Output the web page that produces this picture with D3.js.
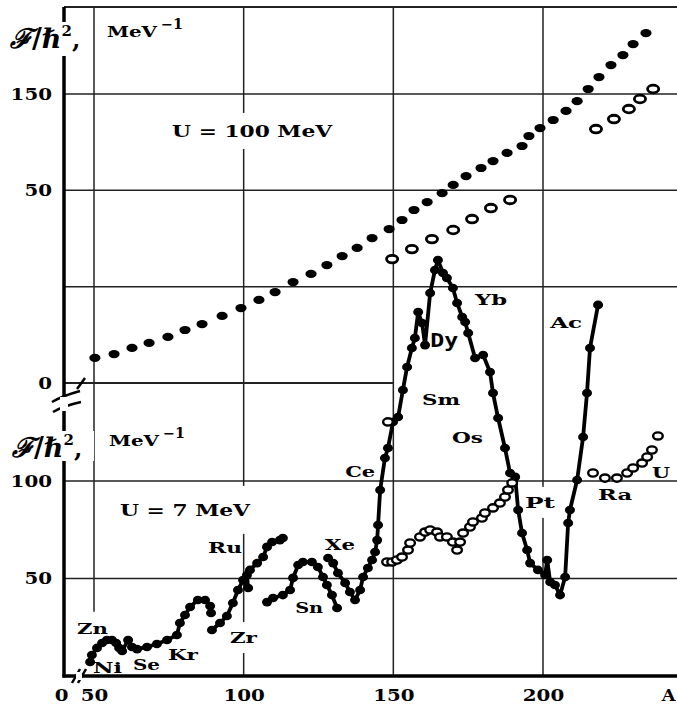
<!DOCTYPE html>
<html><head><meta charset="utf-8">
<script src="https://cdn.jsdelivr.net/npm/d3@7"></script>
<style>
body{margin:0;background:#fff}
svg{display:block}
text{font-family:"DejaVu Serif",serif;font-weight:bold;fill:#000}
</style></head><body>
<svg id="chart" width="677" height="713"></svg>
<script>
// ---- data: [A, F/h^2] ----
const topFilled = [[50.3,13.0],[56.7,15.0],[62.7,18.2],[68.4,20.8],[74.7,23.9],[80.4,27.5],[86.1,30.6],[92.8,34.8],[99.1,38.9],[105.1,43.1],[110.5,47.2],[116.5,52.4],[122.5,56.6],[127.8,61.2],[132.9,65.9],[137.9,70.1],[142.9,75.2],[148.6,79.9],[152.9,84.6],[156.9,89.8],[161.3,93.9],[166.3,98.6],[170.0,102.8],[174.3,107.4],[179.3,111.6],[183.3,115.2],[188.0,119.4],[193.0,123.0],[195.3,128.2],[199.0,132.3],[203.4,136.5],[207.7,141.2],[211.4,146.3],[215.1,152.6],[218.7,158.8],[222.7,165.0],[226.7,170.2],[230.1,175.9],[234.4,181.6]];
const topOpen = [[149.6,64.3],[156.2,69.5],[162.9,74.7],[170.0,79.4],[176.3,85.1],[182.6,90.8],[189.0,95.0],[217.7,131.8],[223.7,137.0],[228.7,142.2],[232.4,147.4],[236.8,152.6]];

const lowNiKr = [[48.7,7.2],[49.3,10.8],[51.0,14.4],[52.7,16.9],[54.3,18.5],[56.0,18.5],[57.4,16.9],[58.4,14.4],[59.4,12.8],[61.4,18.5],[62.7,14.9],[64.4,13.8],[67.7,14.9],[71.0,16.4],[74.4,18.5],[77.7,21.0],[78.7,27.2],[80.4,31.3],[82.1,35.4],[84.7,39.0],[87.1,39.0],[88.8,35.9],[89.1,32.3]];
const lowZrRu = [[89.4,23.6],[92.1,27.2],[94.4,30.8],[96.4,37.4],[98.1,44.1],[99.8,49.2],[101.5,45.1],[101.1,51.8],[102.1,54.4],[104.5,57.9],[106.5,61.0],[107.8,66.2],[109.5,68.7],[112.1,69.7],[113.1,70.8]];
const lowSn = [[107.8,37.9],[109.8,40.0],[113.1,41.5],[115.5,44.1],[116.5,50.3],[118.2,56.9],[119.8,58.5],[122.8,58.5],[124.8,55.9],[126.5,50.8],[127.8,46.7],[129.5,41.5],[131.2,34.9]];
const lowXeAc = [[128.2,60.5],[129.9,57.9],[131.5,52.8],[133.9,47.7],[135.5,43.1],[137.2,39.0],[138.9,44.1],[139.9,50.8],[141.5,55.4],[142.9,59.5],[143.9,63.6],[144.6,69.7],[144.9,77.4],[145.6,95.4],[147.2,111.8],[148.2,116.9],[149.9,130.3],[151.6,132.8],[153.2,146.7],[154.6,158.5],[156.2,168.2],[157.2,173.3],[158.3,186.7],[159.6,181.0],[160.6,169.7],[162.3,196.4],[163.9,208.2],[164.9,213.3],[166.6,206.7],[167.9,204.1],[169.9,199.0],[171.3,191.3],[173.0,184.1],[174.0,181.5],[175.0,175.9],[177.3,163.1],[180.0,164.6],[182.3,155.9],[183.3,145.1],[185.0,132.3],[187.3,116.9],[189.0,104.1],[190.7,102.1],[191.7,85.1],[193.0,73.3],[194.7,64.6],[195.7,57.9],[198.3,54.4],[200.7,51.8],[201.4,59.5],[202.4,48.2],[204.0,46.7],[205.7,41.5],[207.4,50.8],[208.4,78.5],[209.0,85.1],[211.4,100.5],[213.4,122.6],[214.7,145.1],[215.7,168.2],[218.4,190.3]];
const lowOpen = [[148.2,130.3],[147.9,58.5],[149.6,58.5],[151.2,59.5],[152.9,61.0],[154.9,64.6],[155.6,68.2],[158.9,71.3],[160.6,73.8],[162.3,74.9],[164.6,73.8],[165.6,71.3],[167.9,71.3],[169.9,68.7],[171.3,64.6],[172.3,68.7],[173.3,73.3],[175.6,76.4],[176.6,79.0],[179.6,81.0],[180.6,83.6],[183.3,86.2],[185.6,88.7],[187.3,91.8],[188.3,95.4],[189.7,99.0],[216.7,104.1],[220.7,101.5],[224.7,101.5],[228.1,104.1],[230.1,106.7],[233.1,109.2],[234.8,112.3],[236.4,115.9],[238.4,123.1]];

// tick labels
const xTickPos = [39, 50, 100, 150, 200, 241.8];
const xTickText = ["0", "50", "100", "150", "200", "A"];
const topTickPos = [0, 50, 100, 150];
const topTickText = ["0", "", "50", "150"];
const lowTickPos = [50, 100];
const lowTickText = ["50", "100"];

// element labels, anchored at [A, F] on the lower scale
const elements = [
  {t:"Zn", a:44.3, f:21.5, w:31}, {t:"Ni", a:49.7, f:1.5, w:29}, {t:"Se", a:63.0, f:3.1, w:27},
  {t:"Kr", a:74.7, f:8.2, w:30}, {t:"Zr", a:95.4, f:16.9, w:27, bg:true}, {t:"Ru", a:88.1, f:63.1, w:34},
  {t:"Sn", a:117.2, f:32.3, w:28}, {t:"Xe", a:127.2, f:64.6, w:30}, {t:"Ce", a:133.9, f:102.1, w:30},
  {t:"Sm", a:159.6, f:139.0, w:38}, {t:"Os", a:169.6, f:119.5, w:31}, {t:"Dy", a:162.3, f:169.7, w:28, sans:true},
  {t:"Yb", a:177.3, f:190.3, w:32}, {t:"Ac", a:202.4, f:178.5, w:32}, {t:"Pt", a:194.0, f:86.2, w:30, bg:true},
  {t:"Ra", a:218.4, f:90.3, w:34}, {t:"U", a:236.4, f:101.5, w:18}
];

const W = 677, H = 713;
const axisX = 64, axisY = 676, topY = 7;

const x = d3.scaleLinear().domain([50, 200]).range([94, 543]);
const yTop = d3.scaleLinear().domain([0, 150]).range([383, 94]);
const yLow = d3.scaleLinear().domain([0, 100]).range([axisY, 481]);

const svg = d3.select('#chart');
const grid = svg.append('g').attr('stroke', '#222').attr('stroke-width', 1.5);

// vertical grid lines
[50, 100, 150, 200].forEach(a => {
  grid.append('line').attr('x1', x(a)).attr('x2', x(a))
    .attr('y1', topY).attr('y2', a === 50 ? yLow(33) : axisY);
});
// horizontal grid lines
topTickPos.filter(v => v > 0).forEach(v => {
  grid.append('line').attr('x1', axisX).attr('x2', W).attr('y1', yTop(v)).attr('y2', yTop(v));
});
grid.append('line').attr('x1', axisX).attr('x2', x(150)).attr('y1', yTop(0)).attr('y2', yTop(0)).attr('stroke-width', 2);
lowTickPos.forEach(v => {
  grid.append('line').attr('x1', axisX).attr('x2', W).attr('y1', yLow(v)).attr('y2', yLow(v));
});
grid.append('line').attr('x1', axisX).attr('x2', W).attr('y1', topY).attr('y2', topY).attr('stroke-width', 2);

// labels with white gaps in the grid behind them
function label(txt, px, py, size, width, bg, pad) {
  const t = svg.append('text').attr('x', px).attr('y', py).attr('font-size', size).text(txt);
  if (width) t.attr('textLength', width).attr('lengthAdjust', 'spacingAndGlyphs');
  if (bg) {
    const b = t.node().getBBox();
    const p = pad || [3, 3];
    svg.insert('rect', 'text').attr('x', b.x - p[0]).attr('y', b.y - p[1])
      .attr('width', b.width + 2 * p[0]).attr('height', b.height + 2 * p[1]).attr('fill', '#fff');
  }
  return t;
}

// main axes
svg.append('line').attr('x1', axisX).attr('x2', axisX).attr('y1', topY).attr('y2', axisY + 1.5)
  .attr('stroke', '#000').attr('stroke-width', 3.5);
svg.append('line').attr('x1', axisX - 1.5).attr('x2', W).attr('y1', axisY).attr('y2', axisY)
  .attr('stroke', '#000').attr('stroke-width', 3.5);

label('U = 100 MeV', x(76.1), yTop(127.7), 17, 160, true, [4, 8]);
label('U = 7 MeV', x(58.7), yLow(82.1), 17, 130, true, [4, 14]);

elements.forEach(e => {
  const t = label(e.t, x(e.a), yLow(e.f) + (e.sans ? 2 : 0), e.sans ? 20 : 15.5, e.w, e.bg, [2, 6]);
  if (e.sans) t.style('font-family', '"DejaVu Sans Mono", monospace');
});

// axis titles
function title(px, py, sy) {
  svg.append('rect').attr('x', px - 2).attr('y', py - 26).attr('width', 84).attr('height', sy)
    .attr('fill', '#fff');
  const t = svg.append('text').attr('x', px).attr('y', py);
  t.append('tspan').attr('font-size', 27).attr('font-style', 'italic').text('ℱ');
  t.append('tspan').attr('font-size', 27).text('/ℏ');
  t.append('tspan').attr('font-size', 15).attr('dy', -12).text('2');
  t.append('tspan').attr('font-size', 24).attr('dy', 12).text(',');
  svg.append('text').attr('x', px + 97).attr('y', py - 11).attr('font-size', 15)
    .attr('textLength', 50).attr('lengthAdjust', 'spacingAndGlyphs').text('MeV');
  svg.append('text').attr('x', px + 151).attr('y', py - 19).attr('font-size', 14)
    .attr('textLength', 22).attr('lengthAdjust', 'spacingAndGlyphs').text('−1');
}
title(10, 48, 34);
title(12, 457, 30);

// tick labels through d3 axes
function styleAxis(g, perChar) {
  g.select('.domain').remove();
  g.attr('font-family', null).attr('font-size', 17);
  g.selectAll('text').attr('textLength', function () { return this.textContent.length * perChar || null; })
    .attr('lengthAdjust', 'spacingAndGlyphs');
}
svg.append('g').attr('transform', `translate(0,${axisY})`)
  .call(d3.axisBottom(x).tickValues(xTickPos).tickFormat((d, i) => xTickText[i]).tickSize(0).tickPadding(13))
  .call(g => styleAxis(g, 13.8));
svg.append('g').attr('transform', `translate(${axisX},0)`)
  .call(d3.axisLeft(yTop).tickValues(topTickPos).tickFormat((d, i) => topTickText[i]).tickSize(0).tickPadding(12))
  .call(g => styleAxis(g, 13.8));
svg.append('g').attr('transform', `translate(${axisX},0)`)
  .call(d3.axisLeft(yLow).tickValues(lowTickPos).tickFormat((d, i) => lowTickText[i]).tickSize(0).tickPadding(12))
  .call(g => styleAxis(g, 13.8));

// axis break marks
const brk = svg.append('g').attr('stroke', '#000').attr('stroke-width', 2.5).attr('fill', 'none');
svg.append('rect').attr('x', axisX - 4).attr('y', 397).attr('width', 8).attr('height', 14).attr('fill', '#fff');
brk.append('path').attr('d', 'M52,402 Q62,396 80,391');
brk.append('path').attr('d', 'M53,412 Q63,406 81,402');
brk.append('path').attr('d', `M77,${yTop(0) + 6} L85,${yTop(0) - 5}`);
svg.append('rect').attr('x', 76).attr('y', axisY - 4).attr('width', 6).attr('height', 8).attr('fill', '#fff');
brk.append('path').attr('d', `M72,${axisY + 7} L80,${axisY - 7}`);
brk.append('path').attr('d', `M78,${axisY + 7} L86,${axisY - 7}`);

// upper panel, U = 100 MeV
svg.append('g').selectAll('ellipse').data(topFilled).join('ellipse')
  .attr('cx', d => x(d[0])).attr('cy', d => yTop(d[1])).attr('rx', 5.6).attr('ry', 4.1).attr('fill', '#000');
svg.append('g').selectAll('ellipse').data(topOpen).join('ellipse')
  .attr('cx', d => x(d[0])).attr('cy', d => yTop(d[1])).attr('rx', 5.6).attr('ry', 3.8)
  .attr('fill', '#fff').attr('stroke', '#000').attr('stroke-width', 2.8);

// lower panel, U = 7 MeV
const line = d3.line().x(d => x(d[0])).y(d => yLow(d[1]));
const lower = svg.append('g');
[lowNiKr, lowZrRu, lowSn, lowXeAc].forEach(seg => {
  lower.append('path').attr('d', line(seg)).attr('fill', 'none').attr('stroke', '#000')
    .attr('stroke-width', 3.8).attr('stroke-linejoin', 'round');
  lower.append('g').selectAll('ellipse').data(seg).join('ellipse')
    .attr('cx', d => x(d[0])).attr('cy', d => yLow(d[1])).attr('rx', 5).attr('ry', 4.3).attr('fill', '#000');
});
lower.append('g').selectAll('ellipse').data(lowOpen).join('ellipse')
  .attr('cx', d => x(d[0])).attr('cy', d => yLow(d[1])).attr('rx', 4.8).attr('ry', 3.6)
  .attr('fill', '#fff').attr('stroke', '#000').attr('stroke-width', 2.4);
</script>
</body></html>
